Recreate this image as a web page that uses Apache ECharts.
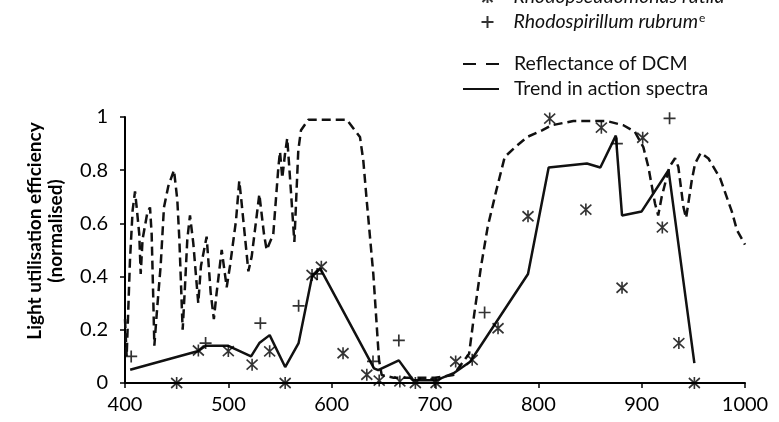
<!DOCTYPE html>
<html>
<head>
<meta charset="utf-8">
<script src="https://cdn.jsdelivr.net/npm/echarts@6/dist/echarts.min.js"></script>
<style>
  html, body { margin: 0; padding: 0; background: #fff; }
  #main { width: 779px; height: 422px; }
</style>
</head>
<body>
<div id="main"></div>
<script>
// wavelength (nm) / normalised values
var trendNm  = [405, 471, 478, 500, 522, 530, 540, 555, 568, 581, 589, 641, 645, 665, 679, 701, 718, 734, 790, 810, 847, 860, 875, 881, 900, 926, 951];
var trendVal = [0.05, 0.12, 0.14, 0.14, 0.10, 0.15, 0.18, 0.06, 0.15, 0.40, 0.43, 0.055, 0.048, 0.085, 0.01, 0.01, 0.037, 0.08, 0.41, 0.81, 0.825, 0.81, 0.93, 0.63, 0.645, 0.80, 0.075];

var dcmNm  = [400, 401.6, 404.8, 407.4, 409.7, 411.3, 413.8, 415.2, 417, 421.6, 424.2, 425.8, 427.4, 428.4, 431.3, 434.5, 437.7, 441.9, 447.4, 450.6,
              452.6, 455.8, 458, 460.3, 462.9, 466.1, 470.9, 473.5, 479, 482.9, 486, 488.7, 493.6, 498.4, 501.6, 507.4, 510.6, 512.9, 519.4, 522.6,
              530, 534.5, 537.1, 543.5, 548.4, 550, 552.2, 554.8, 557, 559, 563.9, 567.7, 570.3, 577.4, 614.6, 627.4, 630.6, 633.9, 640.3, 645.8,
              648.4, 660, 700, 717.7, 733, 738, 744.5, 751, 759.4, 767.5, 777.7, 789.3, 803.6, 813, 833.9, 866, 882.3, 893.5, 901.6, 906.5,
              912.9, 916, 919.4, 926.8, 932.3, 935.5, 940.4, 943, 948.5, 951.7, 957.2, 964.6, 976, 987.3, 992.2, 1000];
var dcmVal = [0.24, 0.10, 0.46, 0.65, 0.72, 0.66, 0.56, 0.41, 0.54, 0.64, 0.66, 0.56, 0.31, 0.14, 0.29, 0.44, 0.66, 0.74, 0.80, 0.69,
              0.54, 0.20, 0.36, 0.54, 0.63, 0.525, 0.30, 0.44, 0.55, 0.34, 0.24, 0.34, 0.50, 0.36, 0.44, 0.61, 0.76, 0.675, 0.42, 0.475,
              0.71, 0.56, 0.50, 0.56, 0.81, 0.87, 0.77, 0.86, 0.92, 0.81, 0.53, 0.875, 0.95, 0.99, 0.99, 0.925, 0.837, 0.687, 0.41, 0.087,
              0.03, 0.02, 0.02, 0.03, 0.11, 0.26, 0.437, 0.587, 0.725, 0.85, 0.887, 0.925, 0.95, 0.969, 0.985, 0.985, 0.969, 0.944, 0.887, 0.812,
              0.675, 0.63, 0.70, 0.812, 0.845, 0.812, 0.662, 0.62, 0.762, 0.825, 0.865, 0.844, 0.769, 0.644, 0.575, 0.52];

var rutilaNm  = [450, 471, 500, 523, 540, 555, 581, 590, 611, 634, 646, 666, 681, 701, 720, 736, 761, 790, 811, 846, 861, 881, 901, 920, 936, 951];
var rutilaVal = [0, 0.122, 0.12, 0.069, 0.119, 0, 0.406, 0.437, 0.112, 0.031, 0.009, 0.006, 0, 0, 0.081, 0.087, 0.206, 0.627, 0.994, 0.652, 0.96, 0.358, 0.922, 0.585, 0.15, 0];

var rubrumNm  = [406, 478, 531, 568, 586, 640, 665, 748, 876, 927];
var rubrumVal = [0.10, 0.15, 0.225, 0.29, 0.41, 0.081, 0.16, 0.265, 0.90, 0.995];

function pairs(xs, ys) {
    return xs.map(function (x, i) { return [x, ys[i]]; });
}

var ink = '#111';
var font = 'Lato, "Open Sans", sans-serif';
var asterisk = 'path://M0,1L10,11M10,1L0,11M5,0L5,12';
var plus = 'path://M5,0L5,10M0,5L10,5';

var myChart = echarts.init(document.getElementById('main'));
myChart.setOption({
    animation: false,
    grid: { left: 125, right: 34, top: 117, bottom: 39, outerBoundsMode: 'none' },
    legend: [{
        data: ['Rhodopseudomonas rutila', 'Rhodospirillum rubrum'],
        orient: 'vertical',
        left: 479,
        top: -13,
        padding: 0,
        itemWidth: 42,
        itemHeight: 12,
        itemGap: 5,
        selectedMode: false,
        formatter: function (name) {
            return name === 'Rhodospirillum rubrum' ? name + '{sup|e}' : name;
        },
        textStyle: {
            fontFamily: font, fontStyle: 'italic', fontSize: 19.5, color: ink, lineHeight: 20,
            rich: { sup: { fontFamily: font, fontStyle: 'normal', fontSize: 12, verticalAlign: 'top', lineHeight: 20, padding: [0, 0, 8, 1] } }
        }
    }, {
        data: [
            { name: 'Reflectance of DCM', lineStyle: { type: [13, 10] } },
            { name: 'Trend in action spectra' }
        ],
        orient: 'vertical',
        left: 462,
        top: 54,
        padding: 0,
        itemWidth: 36,
        itemHeight: 12,
        itemGap: 5,
        selectedMode: false,
        itemStyle: { color: 'transparent', borderColor: 'transparent', borderWidth: 0 },
        textStyle: { fontFamily: font, fontSize: 19.5, color: ink, lineHeight: 20, padding: [0, 0, 0, 10] }
    }],
    xAxis: {
        type: 'value',
        min: 400,
        max: 1000,
        interval: 100,
        axisLine: { lineStyle: { color: '#000', width: 2 } },
        axisTick: { length: 5, lineStyle: { color: '#000', width: 1.5 } },
        axisLabel: { color: '#000', fontFamily: font, fontSize: 20, margin: 12, formatter: function (v) { return String(v); } },
        splitLine: { show: false }
    },
    yAxis: {
        type: 'value',
        min: 0,
        max: 1,
        interval: 0.2,
        axisLine: { show: true, lineStyle: { color: '#000', width: 2 } },
        axisTick: { show: true, length: 5, lineStyle: { color: '#000', width: 1.5 } },
        axisLabel: { color: '#000', fontFamily: font, fontSize: 20, margin: 17 },
        splitLine: { show: false }
    },
    graphic: [{
        type: 'text',
        x: 45,
        y: 231,
        rotation: Math.PI / 2,
        style: {
            text: 'Light utilisation efficiency\n(normalised)',
            fontFamily: font,
            fontWeight: 'bold',
            fontSize: 19,
            lineHeight: 21,
            fill: '#000',
            align: 'center',
            verticalAlign: 'middle'
        }
    }],
    series: [{
        name: 'Reflectance of DCM',
        type: 'line',
        data: pairs(dcmNm, dcmVal),
        showSymbol: false,
        symbol: 'none',
        lineStyle: { color: ink, width: 2.5, type: [9, 5] },
        itemStyle: { color: ink },
        z: 2
    }, {
        name: 'Trend in action spectra',
        type: 'line',
        data: pairs(trendNm, trendVal),
        showSymbol: false,
        symbol: 'none',
        lineStyle: { color: ink, width: 2.5 },
        itemStyle: { color: ink },
        z: 3
    }, {
        name: 'Rhodopseudomonas rutila',
        type: 'scatter',
        data: pairs(rutilaNm, rutilaVal),
        symbol: asterisk,
        symbolSize: [11, 12],
        itemStyle: { color: 'none', borderColor: '#000', borderWidth: 1.7 },
        z: 4
    }, {
        name: 'Rhodospirillum rubrum',
        type: 'scatter',
        data: pairs(rubrumNm, rubrumVal),
        symbol: plus,
        symbolSize: 12,
        itemStyle: { color: 'none', borderColor: '#000', borderWidth: 1.7 },
        z: 4
    }]
});
</script>
</body>
</html>
